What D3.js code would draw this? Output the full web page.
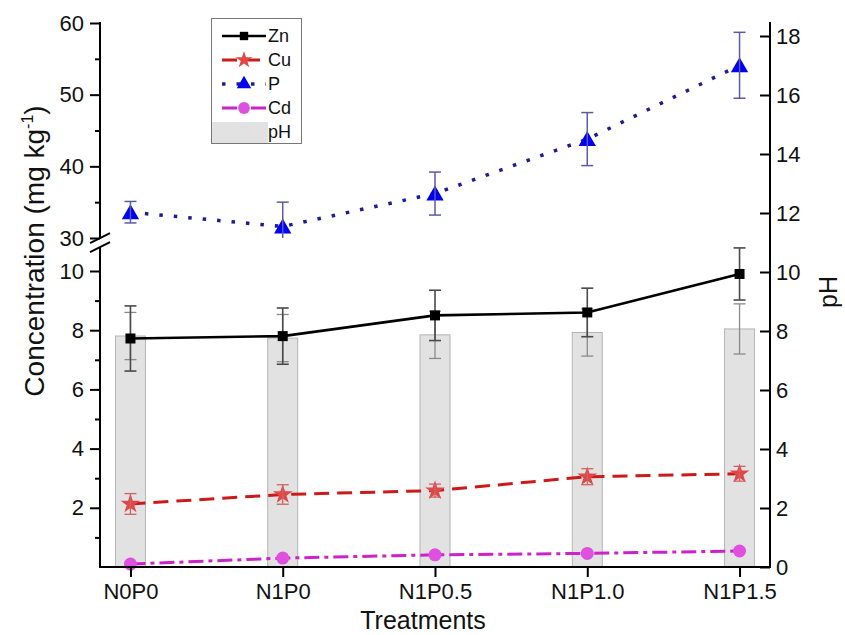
<!DOCTYPE html>
<html><head><meta charset="utf-8">
<script src="https://cdn.jsdelivr.net/npm/d3@7"></script>
<style>body{margin:0;background:#fff}svg{display:block;font-family:"Liberation Sans",Arial,Helvetica,sans-serif}</style>
</head><body><svg id="c" width="845" height="635"></svg>
<script>
// ---- data ----
const categories = ["N0P0", "N1P0", "N1P0.5", "N1P1.0", "N1P1.5"];
const zn    = [7.72, 7.80, 8.50, 8.60, 9.90];
const znErr = [1.10, 0.95, 0.85, 0.82, 0.88];
const cu    = [2.13, 2.45, 2.58, 3.05, 3.15];
const cuErr = [0.35, 0.33, 0.22, 0.27, 0.25];
const p     = [33.6, 31.6, 36.2, 43.8, 54.1];
const pErr  = [1.5, 3.4, 3.0, 3.7, 4.6];
const cd    = [0.10, 0.30, 0.41, 0.46, 0.54];
const ph    = [7.83, 7.76, 7.87, 7.95, 8.07];
const phErr = [0.80, 0.80, 0.80, 0.80, 0.85];
const lowTicks = [2, 4, 6, 8, 10];
const lowMinor = [1, 3, 5, 7, 9];
const upTicks = [30, 40, 50, 60];
const upMinor = [35, 45, 55];
const phTicks = [0, 2, 4, 6, 8, 10, 12, 14, 16, 18];

// ---- layout ----
const svg = d3.select("#c");
const X0 = 100, X1 = 770, YB = 567;
const x = d3.scalePoint().domain(categories).range([X0, X1]).padding(0.2);
const yLow = d3.scaleLinear().domain([0, 10]).range([YB, 271]);
const lowTop = 10.8;
const yUp = d3.scaleLinear().domain([30, 60]).range([238, 23]);
const yPH = d3.scaleLinear().domain([0, 18]).range([YB, 36]);

function errBar(g, cx, yScale, v, e, color, w, lo, hi) {
  let a = v - e, b = v + e;
  const capA = a >= lo, capB = b <= hi;
  a = Math.max(a, lo); b = Math.min(b, hi);
  g.append("line").attr("x1", cx).attr("x2", cx).attr("y1", yScale(a)).attr("y2", yScale(b))
    .attr("stroke", color).attr("stroke-width", w);
  const cw = 6;
  if (capA) g.append("line").attr("x1", cx - cw).attr("x2", cx + cw).attr("y1", yScale(a)).attr("y2", yScale(a)).attr("stroke", color).attr("stroke-width", w);
  if (capB) g.append("line").attr("x1", cx - cw).attr("x2", cx + cw).attr("y1", yScale(b)).attr("y2", yScale(b)).attr("stroke", color).attr("stroke-width", w);
}

// ---- pH bars ----
const gBars = svg.append("g");
gBars.selectAll("rect").data(categories).join("rect")
  .attr("x", d => x(d) - 15).attr("width", 30)
  .attr("y", (d, i) => yPH(ph[i])).attr("height", (d, i) => YB - yPH(ph[i]))
  .attr("fill", "#e2e2e2").attr("stroke", "#b4b4b4").attr("stroke-width", 1);
categories.forEach((c, i) => errBar(gBars, x(c), yPH, ph[i], phErr[i], "#8a8a8a", 1.3, 0, 18.4));

// ---- lines ----
const series = [
  {vals: zn, err: znErr, sc: yLow, line: "#000", dash: null, w: 2.6},
  {vals: cu, err: cuErr, sc: yLow, line: "#cc1a1a", dash: "15,8", w: 3},
  {vals: p, err: pErr, sc: yUp, line: "#1c1c98", dash: "3.5,11", w: 3.5},
  {vals: cd, err: null, sc: yLow, line: "#cc22cc", dash: "15,5,4,5", w: 3}
];
const gL = svg.append("g");
series.forEach(s => {
  const ln = d3.line().x((d, i) => x(categories[i])).y(d => s.sc(d));
  gL.append("path").attr("d", ln(s.vals)).attr("fill", "none").attr("stroke", s.line)
    .attr("stroke-width", s.w).attr("stroke-dasharray", s.dash);
});
const gM = svg.append("g");
// Zn
categories.forEach((c, i) => errBar(gM, x(c), yLow, zn[i], znErr[i], "#4a4a4a", 1.6, 0, lowTop));
gM.selectAll(".zn").data(zn).join("path").attr("transform", (d, i) => `translate(${x(categories[i])},${yLow(d)})`)
  .attr("d", d3.symbol(d3.symbolSquare, 100)).attr("fill", "#000");
// Cu
gM.selectAll(".cu").data(cu).join("path").attr("transform", (d, i) => `translate(${x(categories[i])},${yLow(d)})`)
  .attr("d", d3.symbol(d3.symbolStar, 120)).attr("fill", "#e04848");
categories.forEach((c, i) => errBar(gM, x(c), yLow, cu[i], cuErr[i], "#d36060", 1.3, 0, lowTop));
// P
gM.selectAll(".p").data(p).join("path").attr("transform", (d, i) => `translate(${x(categories[i])},${yUp(d) + 2})`)
  .attr("d", d3.symbol(d3.symbolTriangle, 130)).attr("fill", "#0000f0");
categories.forEach((c, i) => errBar(gM, x(c), yUp, p[i], pErr[i], "#5a5aa8", 1.5, 30, 60));
// Cd
gM.selectAll(".cd").data(cd).join("circle").attr("cx", (d, i) => x(categories[i])).attr("cy", d => yLow(d))
  .attr("r", 6.5).attr("fill", "#e050e0");

// ---- axes ----
const gA = svg.append("g").attr("font-size", 22).attr("fill", "#111");
const ax = "#000";
gA.append("line").attr("x1", X0).attr("x2", X0).attr("y1", YB + 1).attr("y2", yLow(lowTop)).attr("stroke", ax).attr("stroke-width", 2);
gA.append("line").attr("x1", X0).attr("x2", X0).attr("y1", yUp(30)).attr("y2", yUp(60) - 1).attr("stroke", ax).attr("stroke-width", 2);
// break marks
const yb1 = (yUp(30) + yLow(lowTop)) / 2;
[-4.5, 4.5].forEach(o => gA.append("line").attr("x1", X0 - 10).attr("x2", X0 + 10)
  .attr("y1", yb1 + o + 5).attr("y2", yb1 + o - 5).attr("stroke", ax).attr("stroke-width", 2));

function yTicks(scale, vals, minor) {
  const g = gA.append("g").attr("transform", `translate(${X0},0)`);
  g.call(d3.axisLeft(scale).tickValues(vals).tickSize(10).tickPadding(6));
  g.select(".domain").remove();
  g.selectAll(".tick line").attr("stroke", ax).attr("stroke-width", 2);
  g.selectAll(".tick text").attr("font-size", 22).attr("fill", "#111").attr("font-family", null);
  const gm = gA.append("g").attr("transform", `translate(${X0},0)`);
  gm.call(d3.axisLeft(scale).tickValues(minor).tickSize(5).tickFormat(""));
  gm.select(".domain").remove();
  gm.selectAll(".tick line").attr("stroke", ax).attr("stroke-width", 2);
}
yTicks(yLow, lowTicks, lowMinor);
yTicks(yUp, upTicks, upMinor);

// right pH axis
const gR = gA.append("g").attr("transform", `translate(${X1},0)`);
gR.call(d3.axisRight(yPH).tickValues(phTicks).tickSize(-10).tickPadding(6));
gR.select(".domain").remove();
gR.selectAll(".tick line").attr("stroke", ax).attr("stroke-width", 2);
gR.selectAll(".tick text").attr("font-size", 22).attr("fill", "#111").attr("font-family", null).attr("x", 6);
gA.append("line").attr("x1", X1).attr("x2", X1).attr("y1", YB + 1).attr("y2", 22).attr("stroke", ax).attr("stroke-width", 2);

// bottom axis
const gX = gA.append("g").attr("transform", `translate(0,${YB})`);
gX.call(d3.axisBottom(x).tickSize(10).tickPadding(6));
gX.select(".domain").remove();
gX.selectAll(".tick line").attr("stroke", ax).attr("stroke-width", 2);
gX.selectAll(".tick text").attr("font-size", 22).attr("fill", "#111").attr("font-family", null);
gA.append("line").attr("x1", X0 - 1).attr("x2", X1 + 1).attr("y1", YB).attr("y2", YB).attr("stroke", ax).attr("stroke-width", 2);

// titles
svg.append("text").attr("x", 423).attr("y", 629).attr("text-anchor", "middle").attr("font-size", 25).attr("fill", "#111").text("Treatments");
const yt = svg.append("text").attr("transform", "translate(44,251) rotate(-90)").attr("text-anchor", "middle")
  .attr("font-size", 28).attr("fill", "#111");
yt.append("tspan").text("Concentration (mg kg");
yt.append("tspan").attr("font-size", 16).attr("dy", -11).text("-1");
yt.append("tspan").attr("dy", 11).text(")");
svg.append("text").attr("transform", "translate(837,292) rotate(-90)").attr("text-anchor", "middle")
  .attr("font-size", 25).attr("fill", "#111").text("pH");

// ---- legend ----
const gLeg = svg.append("g");
gLeg.append("rect").attr("x", 211.5).attr("y", 18.5).attr("width", 90).attr("height", 125)
  .attr("fill", "#fff").attr("stroke", "#777").attr("stroke-width", 1);
const legItems = [
  {name: "Zn", s: series[0], sym: d3.symbolSquare, size: 70, fill: "#000"},
  {name: "Cu", s: series[1], sym: d3.symbolStar, size: 90, fill: "#e04848"},
  {name: "P", s: series[2], sym: d3.symbolTriangle, size: 90, fill: "#0000f0"},
  {name: "Cd", s: series[3], sym: d3.symbolCircle, size: 110, fill: "#e050e0"}
];
const legY = d3.scalePoint().domain(["Zn", "Cu", "P", "Cd", "pH"]).range([36, 132]);
legItems.forEach(it => {
  const yy = legY(it.name);
  gLeg.append("line").attr("x1", 222).attr("x2", 266).attr("y1", yy).attr("y2", yy)
    .attr("stroke", it.s.line).attr("stroke-width", it.s.w).attr("stroke-dasharray", it.s.dash);
  gLeg.append("path").attr("transform", `translate(244,${yy})`).attr("d", d3.symbol(it.sym, it.size)).attr("fill", it.fill);
  gLeg.append("text").attr("x", 268).attr("y", yy).attr("dy", "0.35em").attr("font-size", 18).attr("fill", "#111").text(it.name);
});
gLeg.append("rect").attr("x", 212).attr("y", 122).attr("width", 56).attr("height", 21).attr("fill", "#e2e2e2");
gLeg.append("text").attr("x", 268).attr("y", legY("pH")).attr("dy", "0.35em").attr("font-size", 18).attr("fill", "#111").text("pH");
</script>
</body></html>
